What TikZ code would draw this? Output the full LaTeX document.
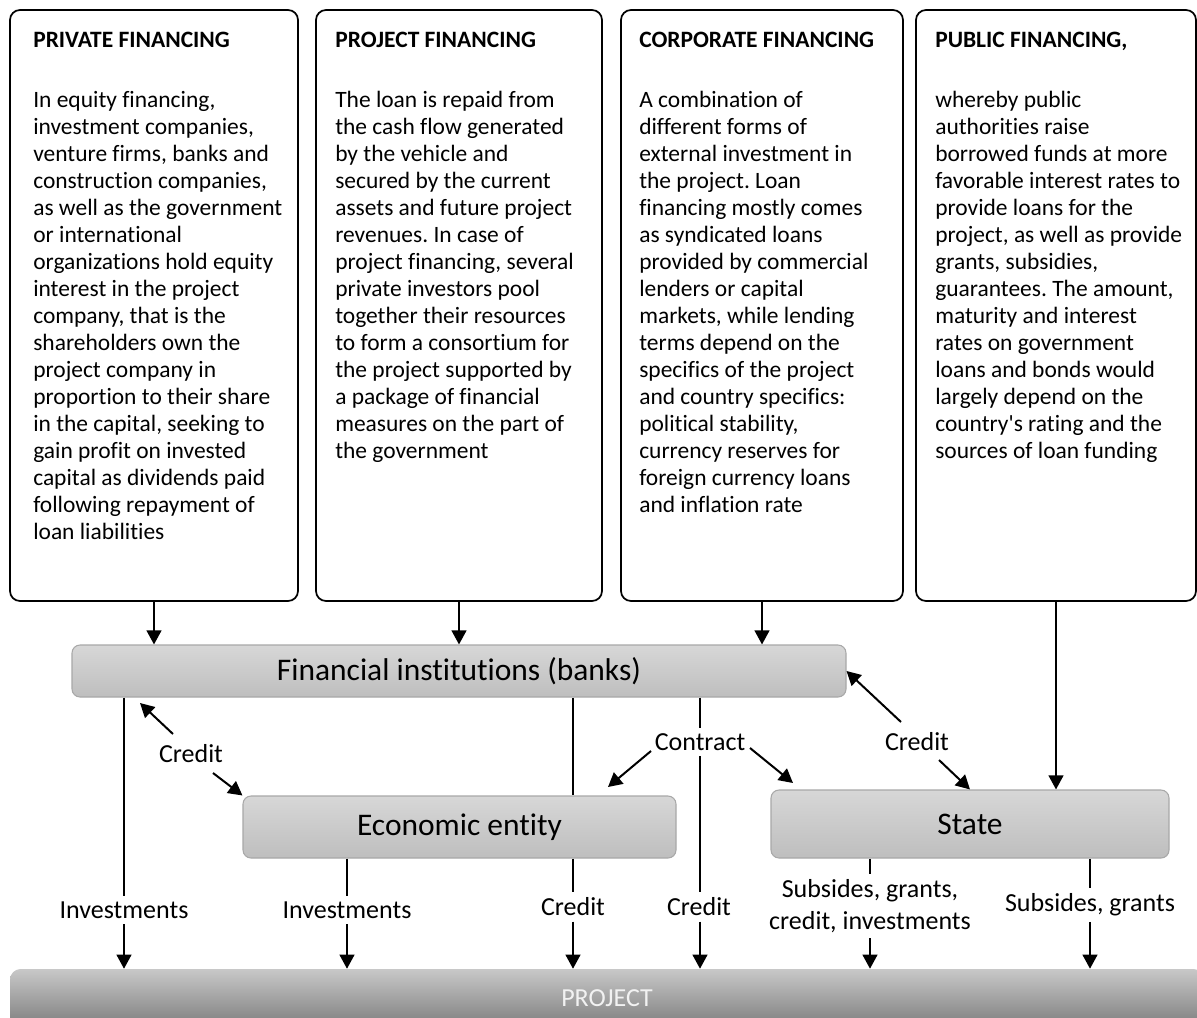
\documentclass[tikz,border=0pt]{standalone}
\usepackage{fontspec}
\setmainfont{Carlito}[Ligatures={NoCommon}]
\newfontfamily\plainap{Carlito}[Ligatures={NoCommon}]
\frenchspacing
\usetikzlibrary{arrows.meta,calc}
\definecolor{gtop}{HTML}{D7D7D7}
\definecolor{gbot}{HTML}{BEBEBE}
\definecolor{gedge}{HTML}{A8A8A8}
\definecolor{ptop}{HTML}{C8C8C8}
\definecolor{pbot}{HTML}{7A7A7A}
\definecolor{ptext}{HTML}{F2F2F2}
\tikzset{
  txtbox/.style={draw, line width=1.3pt, rounded corners=7.5pt, minimum height=443.25pt, inner sep=0pt},
  graybox/.style={draw=gedge, line width=0.8pt, rounded corners=6pt, top color=gtop, bottom color=gbot, font=\fontsize{23.6}{28}\selectfont, inner sep=0pt},
  titletxt/.style={anchor=base west, inner sep=0pt, font=\bfseries\fontsize{17.6}{20.25}\selectfont},
  bodytxt/.style={anchor=base west, inner sep=0pt, font=\fontsize{17.6}{20.25}\selectfont},
  lbl/.style={font=\fontsize{19.5}{24}\selectfont, inner sep=4pt, align=center},
  arr/.style={line width=1.5pt, -{Triangle[length=10.5pt,width=11pt]}},
  ln/.style={line width=1.5pt}
}
\begin{document}
\begin{tikzpicture}[x=0.75pt,y=-0.75pt]
\useasboundingbox (0,0) rectangle (1197,1018);
\clip (0,0) rectangle (1197,1018);

% top text boxes
\node[txtbox, minimum width=216pt] (box1) at (154,305.5) {};
\node[txtbox, minimum width=214.5pt] (box2) at (459,305.5) {};
\node[txtbox, minimum width=211.5pt] (box3) at (762,305.5) {};
\node[txtbox, minimum width=210pt] (box4) at (1056,305.5) {};

\node[titletxt] (t1) at (33,47) {PRIVATE FINANCING};
\node[titletxt] (t2) at (335,47) {PROJECT FINANCING};
\node[titletxt] (t3) at (639,47) {CORPORATE FINANCING};
\node[titletxt] (t4) at (935,47) {PUBLIC FINANCING,};

\node[bodytxt] (b1) at (33,107) {\parbox[t]{230pt}{\raggedright\frenchspacing
In equity financing,\\
investment companies,\\
venture firms, banks and\\
construction companies,\\
as well as the government\\
or international\\
organizations hold equity\\
interest in the project\\
company, that is the\\
shareholders own the\\
project company in\\
proportion to their share\\
in the capital, seeking to\\
gain profit on invested\\
capital as dividends paid\\
following repayment of\\
loan liabilities}};

\node[bodytxt] (b2) at (335,107) {\parbox[t]{230pt}{\raggedright\frenchspacing
The loan is repaid from\\
the cash flow generated\\
by the vehicle and\\
secured by the current\\
assets and future project\\
revenues. In case of\\
project financing, several\\
private investors pool\\
together their resources\\
to form a consortium for\\
the project supported by\\
a package of financial\\
measures on the part of\\
the government}};

\node[bodytxt] (b3) at (639,107) {\parbox[t]{230pt}{\raggedright\frenchspacing
A combination of\\
different forms of\\
external investment in\\
the project. Loan\\
financing mostly comes\\
as syndicated loans\\
provided by commercial\\
lenders or capital\\
markets, while lending\\
terms depend on the\\
specifics of the project\\
and country specifics:\\
political stability,\\
currency reserves for\\
foreign currency loans\\
and inflation rate}};

\node[bodytxt] (b4) at (935,107) {\parbox[t]{230pt}{\raggedright\frenchspacing
whereby public\\
authorities raise\\
borrowed funds at more\\
favorable interest rates to\\
provide loans for the\\
project, as well as provide\\
grants, subsidies,\\
guarantees. The amount,\\
maturity and interest\\
rates on government\\
loans and bonds would\\
largely depend on the\\
country{\plainap '}s rating and the\\
sources of loan funding}};

% gray boxes
\node[graybox, minimum width=580.5pt, minimum height=39pt] (fi) at (459,671) {Financial institutions (banks)};
\node[graybox, minimum width=324.75pt, minimum height=46.5pt] (ee) at (459.5,827) {Economic entity};
\node[graybox, minimum width=298.5pt, minimum height=51pt] (st) at (970,824) {State};
\node[rounded corners=8pt, top color=ptop, bottom color=pbot, minimum width=895.5pt, minimum height=45.75pt, inner sep=0pt] (proj) at (607,999.5) {};
\node[text=ptext, font=\fontsize{19.5}{24}\selectfont, inner sep=0pt] (projtxt) at (607,998) {PROJECT};

% arrows from the text boxes
\draw[arr] (box1.south) -- (box1.south |- fi.north);
\draw[arr] (box2.south) -- (box2.south |- fi.north);
\draw[arr] (box3.south) -- (box3.south |- fi.north);
\draw[arr] (box4.south) -- (box4.south |- st.north);

% labels
\node[lbl] (creditL) at (191,754) {Credit};
\node[lbl] (contract) at (700,742) {Contract};
\node[lbl] (creditR) at (917,742) {Credit};
\node[lbl] (inv1) at (124,910) {Investments};
\node[lbl] (inv2) at (347,910) {Investments};
\node[lbl] (cr1) at (573,907) {Credit};
\node[lbl] (cr2) at (699,907) {Credit};
\node[lbl] (sub1) at (870,906) {Subsides, grants,\\credit, investments};
\node[lbl] (sub2) at (1090,905) {Subsides, grants};

% diagonal arrows
\coordinate (cl1) at (173,734);
\coordinate (cl2) at (213,773);
\coordinate (fitip) at (140,703);
\coordinate (ct1) at (651,751);
\coordinate (ct2) at (750,748);
\coordinate (eetip) at (608,787);
\coordinate (sttip) at (793,783);
\coordinate (crs1) at (901,722);
\coordinate (crs2) at (939,760);

\draw[arr] (cl1) -- (fitip);
\draw[arr] (cl2) -- (ee.north west);
\draw[arr] (ct1) -- (eetip);
\draw[arr] (ct2) -- (sttip);
\draw[arr] (crs1) -- (fi.east);
\draw[arr] (crs2) -- (st.north);

% vertical flows to project
\draw[ln] (fi.south -| inv1) -- (inv1.north);
\draw[arr] (inv1.south) -- (inv1.south |- proj.north);
\draw[ln] (ee.south -| inv2) -- (inv2.north);
\draw[arr] (inv2.south) -- (inv2.south |- proj.north);
\draw[ln] (fi.south -| cr1) -- (ee.north -| cr1);
\draw[ln] (ee.south -| cr1) -- (cr1.north);
\draw[arr] (cr1.south) -- (cr1.south |- proj.north);
\draw[ln] (fi.south -| contract) -- (contract.north);
\draw[ln] (contract.south) -- (cr2.north -| contract);
\draw[arr] (cr2.south -| contract) -- (proj.north -| contract);
\draw[ln] (st.south -| sub1) -- (sub1.north);
\draw[arr] (sub1.south) -- (sub1.south |- proj.north);
\draw[ln] (st.south -| sub2) -- (sub2.north);
\draw[arr] (sub2.south) -- (sub2.south |- proj.north);
\end{tikzpicture}
\end{document}
